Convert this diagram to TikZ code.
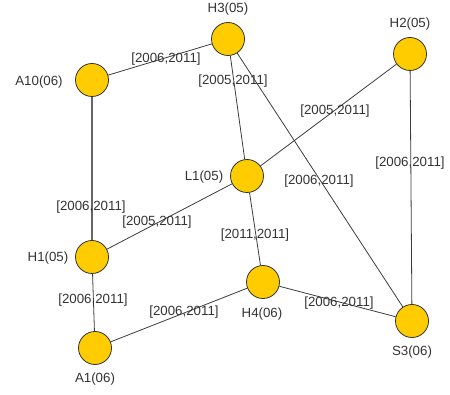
\documentclass[tikz,border=0pt]{standalone}
\usepackage{fontspec}
\setmainfont{Liberation Sans}
\definecolor{nodefill}{HTML}{FFCC00}
\definecolor{nodeline}{HTML}{333333}
\definecolor{edgeline}{HTML}{3C3C3C}
\definecolor{txt}{HTML}{333333}
\begin{document}
\begin{tikzpicture}[x=1pt,y=-1pt,
  vert/.style={circle,draw=nodeline,fill=nodefill,line width=0.8pt,minimum size=33pt,inner sep=0pt},
  lbl/.style={text=txt,font=\fontsize{13.3}{15}\selectfont,inner sep=0pt},
  conn/.style={draw=edgeline,line width=0.8pt}]
\useasboundingbox (0,0) rectangle (450,395);
% vertices
\node[vert] (H3) at (228,39) {};
\node[vert] (H2) at (410,54) {};
\node[vert] (A10) at (92,80) {};
\node[vert] (L1) at (247,176) {};
\node[vert] (H1) at (92,257) {};
\node[vert] (H4) at (263,282) {};
\node[vert] (S3) at (412,321) {};
\node[vert] (A1) at (95,348) {};
% connectors
\draw[conn] (A10) -- (H3);
\draw[conn] (H3) -- (L1);
\draw[conn] (H3) -- (S3);
\draw[conn] (H2) -- (L1);
\draw[conn] (H2) -- (S3);
\draw[conn,draw=black!60,line width=1.3pt] (A10) -- (H1);
\draw[conn] (L1) -- (H1);
\draw[conn] (L1) -- (H4);
\draw[conn] (H1) -- (A1);
\draw[conn] (A1) -- (H4);
\draw[conn] (H4) -- (S3);
% vertex names
\node[lbl] (tH3) at (228,9) {H3(05)};
\node[lbl] (tH2) at (410,24) {H2(05)};
\node[lbl] (tA10) at (39,82) {A10(06)};
\node[lbl] (tL1) at (204,177) {L1(05)};
\node[lbl] (tH1) at (48,258) {H1(05)};
\node[lbl] (tH4) at (262,314) {H4(06)};
\node[lbl] (tS3) at (412,352) {S3(06)};
\node[lbl] (tA1) at (95,379) {A1(06)};
% edge labels
\node[lbl] (eA10H3) at (166,59) {[2006,2011]};
\node[lbl] (eH3L1) at (233,81) {[2005,2011]};
\node[lbl] (eH3S3) at (319,181) {[2006,2011]};
\node[lbl] (eH2L1) at (335,111) {[2005,2011]};
\node[lbl] (eH2S3) at (410,163) {[2006,2011]};
\node[lbl] (eA10H1) at (91,207) {[2006,2011]};
\node[lbl] (eL1H1) at (157,222) {[2005,2011]};
\node[lbl] (eL1H4) at (255,235) {[2011,2011]};
\node[lbl] (eH1A1) at (93,300) {[2006,2011]};
\node[lbl] (eA1H4) at (184,312) {[2006,2011]};
\node[lbl] (eH4S3) at (339,303) {[2006,2011]};
\end{tikzpicture}
\end{document}
